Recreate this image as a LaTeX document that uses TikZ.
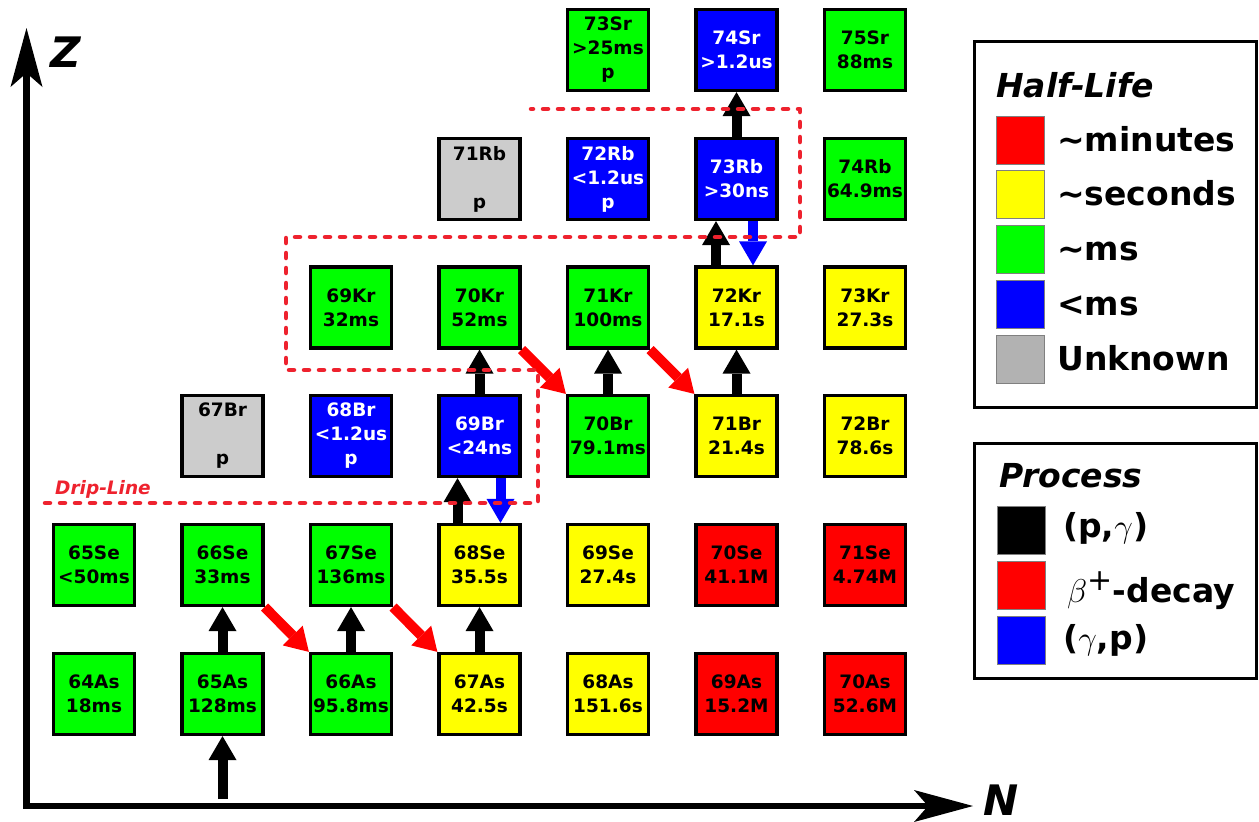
\RequirePackage{fix-cm}
\documentclass[tikz,border=0pt]{standalone}
\usepackage{fontspec}
\setmainfont{DejaVu Sans}
\usetikzlibrary{arrows.meta,calc}
\pgfdeclarelayer{background}
\pgfsetlayers{background,main}
\definecolor{cgreen}{RGB}{0,255,0}
\definecolor{cyellow}{RGB}{255,255,0}
\definecolor{cred}{RGB}{255,0,0}
\definecolor{cblue}{RGB}{0,0,255}
\definecolor{cgray}{RGB}{204,204,204}
\definecolor{lgray}{RGB}{178,178,178}
\definecolor{dripred}{RGB}{238,34,46}
\begin{document}
\begin{tikzpicture}[x=1pt,y=-1pt,
  nuc/.style={draw=black, line width=3.2pt, minimum size=81pt, inner sep=0pt, align=center,
    font=\fontsize{18.5}{24}\selectfont\bfseries},
  ms/.style={nuc, fill=cgreen},
  sec/.style={nuc, fill=cyellow},
  mins/.style={nuc, fill=cred},
  sub/.style={nuc, fill=cblue, text=white},
  unk/.style={nuc, fill=cgray},
  pgarrow/.style={line width=10pt, black, -{Triangle[width=28pt,length=24pt,line width=0pt]}},
  gparrow/.style={line width=10pt, cblue, -{Triangle[width=28pt,length=24pt,line width=0pt]}},
  betaarrow/.style={line width=10pt, cred, -{Triangle[width=28pt,length=23pt,line width=0pt]}},
  axisline/.style={line width=6.5pt, black, {Stealth[width=32pt,length=59pt,inset=14pt,line width=0pt]}-{Stealth[width=32pt,length=59pt,inset=14pt,line width=0pt]}},
  axislabel/.style={font=\fontsize{42}{48}\selectfont\bfseries\itshape, inner sep=0pt, anchor=base west},
  legframe/.style={draw=black, line width=3.3pt},
  legtitle/.style={font=\fontsize{33}{40}\selectfont\bfseries\itshape, inner sep=0pt, anchor=base west},
  legtext/.style={font=\fontsize{33}{40}\selectfont\bfseries, inner sep=0pt, anchor=base west},
  swatch/.style={draw=gray, line width=0.8pt, minimum size=48pt, inner sep=0pt},
  drip/.style={draw=dripred, line width=4.5pt, dash pattern=on 5pt off 10pt, line cap=round, line join=round},
  driplabel/.style={font=\fontsize{18.5}{24}\selectfont\bfseries\itshape, text=dripred, inner sep=0pt, anchor=base west}
]
\useasboundingbox (0,0) rectangle (1259,822);

% ---- As row (y=694)
\node[ms]   (as64) at (94,694)    {64As\\18ms};
\node[ms]   (as65) at (222.5,694) {65As\\128ms};
\node[ms]   (as66) at (351,694)   {66As\\95.8ms};
\node[sec]  (as67) at (479.5,694) {67As\\42.5s};
\node[sec]  (as68) at (608,694)   {68As\\151.6s};
\node[mins] (as69) at (736.5,694) {69As\\15.2M};
\node[mins] (as70) at (865,694)   {70As\\52.6M};
% ---- Se row (y=565)
\node[ms]   (se65) at (94,565)    {65Se\\<50ms};
\node[ms]   (se66) at (222.5,565) {66Se\\33ms};
\node[ms]   (se67) at (351,565)   {67Se\\136ms};
\node[sec]  (se68) at (479.5,565) {68Se\\35.5s};
\node[sec]  (se69) at (608,565)   {69Se\\27.4s};
\node[mins] (se70) at (736.5,565) {70Se\\41.1M};
\node[mins] (se71) at (865,565)   {71Se\\4.74M};
% ---- Br row (y=436)
\node[unk]  (br67) at (222.5,436) {67Br\\[24pt]p};
\node[sub]  (br68) at (351,436)   {68Br\\<1.2us\\p};
\node[sub]  (br69) at (479.5,436) {69Br\\<24ns};
\node[ms]   (br70) at (608,436)   {70Br\\79.1ms};
\node[sec]  (br71) at (736.5,436) {71Br\\21.4s};
\node[sec]  (br72) at (865,436)   {72Br\\78.6s};
% ---- Kr row (y=307.5)
\node[ms]   (kr69) at (351,307.5)   {69Kr\\32ms};
\node[ms]   (kr70) at (479.5,307.5) {70Kr\\52ms};
\node[ms]   (kr71) at (608,307.5)   {71Kr\\100ms};
\node[sec]  (kr72) at (736.5,307.5) {72Kr\\17.1s};
\node[sec]  (kr73) at (865,307.5)   {73Kr\\27.3s};
% ---- Rb row (y=179)
\node[unk]  (rb71) at (479.5,179) {71Rb\\[24pt]p};
\node[sub]  (rb72) at (608,179)   {72Rb\\<1.2us\\p};
\node[sub]  (rb73) at (736.5,179) {73Rb\\>30ns};
\node[ms]   (rb74) at (865,179)   {74Rb\\64.9ms};
% ---- Sr row (y=50)
\node[ms]   (sr73) at (608,50)   {73Sr\\>25ms\\p};
\node[sub]  (sr74) at (736.5,50) {74Sr\\>1.2us};
\node[ms]   (sr75) at (865,50)   {75Sr\\88ms};

% ---- axes
\coordinate (ztip) at (26.5,28);
\coordinate (origin) at (26.5,806);
\coordinate (ntip) at (973,806);
\draw[axisline] (ztip) -- (origin) -- (ntip);
\node[axislabel] (zlab) at (50,67) {Z};
\node[axislabel] (nlab) at (983,815) {N};

% ---- drip line
\coordinate (d1) at (45,503);
\coordinate (d2) at (538,503);
\coordinate (d3) at (538,370);
\coordinate (d4) at (286,370);
\coordinate (d5) at (286,237);
\coordinate (d6) at (800,237);
\coordinate (d7) at (800,109);
\coordinate (d8) at (531,109);
\draw[drip] (d1) -- (d2) -- (d3) -- (d4) -- (d5) -- (d6) -- (d7) -- (d8);
\node[driplabel] (driplab) at (55,494) {Drip-Line};

% ---- process arrows
\coordinate (inflow) at (222.5,799);
\begin{pgfonlayer}{background}
\draw[pgarrow] (inflow) -- (as65.south);
\draw[pgarrow] (as65.north) -- (se66.south);
\draw[pgarrow] (as66.north) -- (se67.south);
\draw[pgarrow] (as67.north) -- (se68.south);
\draw[pgarrow] ($(se68.north)+(-22,0)$) -- ($(br69.south)+(-22,0)$);
\draw[gparrow] ($(br69.south)+(21,0)$) -- ($(se68.north)+(21,0)$);
\draw[pgarrow] (br69.north) -- (kr70.south);
\draw[pgarrow] (br70.north) -- (kr71.south);
\draw[pgarrow] (br71.north) -- (kr72.south);
\draw[pgarrow] ($(kr72.north)+(-20.5,0)$) -- ($(rb73.south)+(-20.5,0)$);
\draw[gparrow] ($(rb73.south)+(16.5,0)$) -- ($(kr72.north)+(16.5,0)$);
\draw[pgarrow] (rb73.north) -- (sr74.south);
\draw[betaarrow] (se66.south east) -- (as66.north west);
\draw[betaarrow] (se67.south east) -- (as67.north west);
\draw[betaarrow] (kr70.south east) -- (br70.north west);
\draw[betaarrow] (kr71.south east) -- (br71.north west);
\end{pgfonlayer}

% ---- legend: half-life
\draw[legframe] (974.5,41.5) rectangle (1256.5,407.5);
\node[legtitle] (hltitle) at (996,97) {Half-Life};
\node[swatch, fill=cred]    (swmin) at (1020.5,140) {};
\node[swatch, fill=cyellow] (swsec) at (1020.5,194) {};
\node[swatch, fill=cgreen]  (swms)  at (1020.5,249) {};
\node[swatch, fill=cblue]   (swsub) at (1020.5,304) {};
\node[swatch, fill=lgray]   (swunk) at (1020.5,359) {};
\node[legtext] (tmin) at (1057,151) {\textasciitilde minutes};
\node[legtext] (tsec) at (1057,205) {\textasciitilde seconds};
\node[legtext] (tms)  at (1057,260) {\textasciitilde ms};
\node[legtext] (tsub) at (1057,315) {<ms};
\node[legtext] (tunk) at (1057,370) {Unknown};

% ---- legend: process
\draw[legframe] (974.5,443.5) rectangle (1256.5,678.5);
\node[legtitle] (prtitle) at (999,487) {Process};
\node[swatch, fill=black] (swpg)   at (1021.5,530) {};
\node[swatch, fill=cred]  (swbeta) at (1021.5,585) {};
\node[swatch, fill=cblue] (swgp)   at (1021.5,640) {};
\node[legtext] (tpg)   at (1063,537) {(p,$\gamma$)};
\node[legtext] (tbeta) at (1067,602) {$\beta^{\mbox{\fontsize{30}{30}\selectfont\mdseries +}}$-decay};
\node[legtext] (tgp)   at (1063,649) {($\gamma$,p)};
\end{tikzpicture}
\end{document}
